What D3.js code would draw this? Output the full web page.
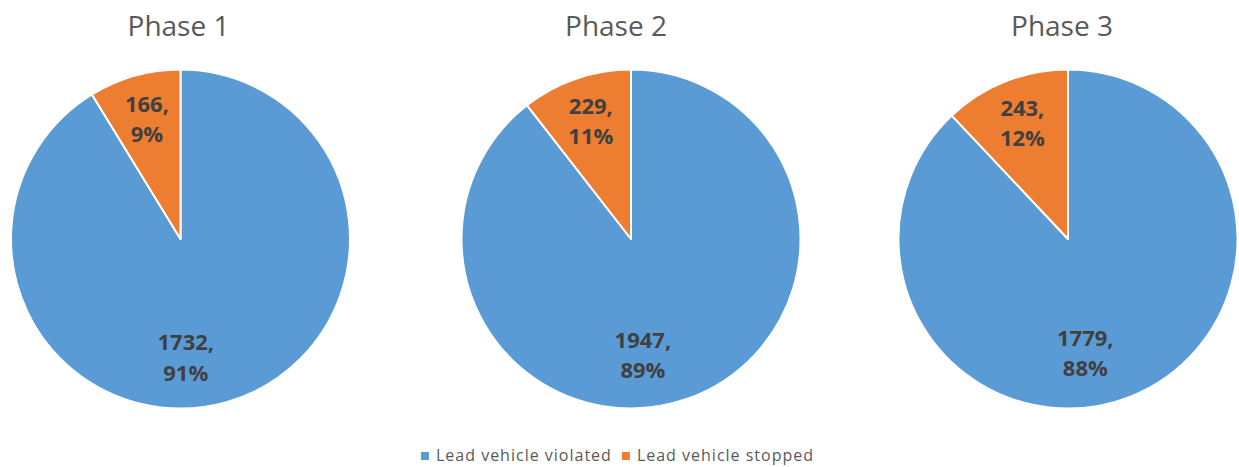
<!DOCTYPE html>
<html>
<head>
<meta charset="utf-8">
<script src="https://cdn.jsdelivr.net/npm/d3@7"></script>
<style>
  body { margin: 0; background: #ffffff; }
  svg { display: block; }
  .pieTitle { font-family: "Open Sans", sans-serif; font-size: 28px; fill: #595959; }
  .sliceLabel { font-family: "Open Sans", sans-serif; font-size: 22px; font-weight: bold; fill: #404040; }
  .legendText { font-family: "Open Sans", sans-serif; font-size: 16px; fill: #595959; letter-spacing: 1px; }
</style>
</head>
<body>
<div id="chart"></div>
<script>
const CHART_WIDTH = 1239;
const CHART_HEIGHT = 467;

// data
const phases = ["Phase 1", "Phase 2", "Phase 3"];
const categories = ["Lead vehicle violated", "Lead vehicle stopped"];
const violatedCounts = [1732, 1947, 1779];
const stoppedCounts = [166, 229, 243];
const sliceColors = ["#5B9BD5", "#ED7D31"];

// layout
const PIE_RADIUS = 169.5;
const PIE_CENTER_Y = 239;
const LABEL_RADIUS = PIE_RADIUS * 0.73;

let pieX = d3.scaleOrdinal().domain(phases).range([180.5, 631, 1068]);
let titleX = d3.scaleOrdinal().domain(phases).range([178.5, 616, 1062]);
let color = d3.scaleOrdinal().domain(categories).range(sliceColors);

let pie = d3.pie().sort(null).value(d => d.value);
let arc = d3.arc().innerRadius(0).outerRadius(PIE_RADIUS);
let labelArc = d3.arc().innerRadius(LABEL_RADIUS).outerRadius(LABEL_RADIUS);
let pct = d3.format(".0%");

let svg = d3.select("#chart").append("svg")
    .attr("width", CHART_WIDTH)
    .attr("height", CHART_HEIGHT);

phases.forEach((phase, i) => {
    let rows = [
        { category: categories[0], value: violatedCounts[i] },
        { category: categories[1], value: stoppedCounts[i] }
    ];
    let total = d3.sum(rows, d => d.value);

    svg.append("text")
        .attr("class", "pieTitle")
        .attr("x", titleX(phase))
        .attr("y", 36)
        .attr("text-anchor", "middle")
        .text(phase);

    let g = svg.append("g")
        .attr("transform", `translate(${pieX(phase)},${PIE_CENTER_Y})`);

    let slices = pie(rows);

    g.selectAll("path")
        .data(slices)
        .join("path")
        .attr("d", arc)
        .attr("fill", d => color(d.data.category))
        .attr("stroke", "#ffffff")
        .attr("stroke-width", 2)
        .attr("stroke-linejoin", "round");

    let labels = g.selectAll("text")
        .data(slices)
        .join("text")
        .attr("class", "sliceLabel")
        .attr("text-anchor", "middle");

    labels.append("tspan")
        .attr("x", 0)
        .attr("dy", "-0.36em")
        .text(d => d.data.value + ",");
    labels.append("tspan")
        .attr("x", 0)
        .attr("dy", "1.38em")
        .text(d => pct(d.data.value / total));

    // big slice: label sits left of its centroid (like Excel's best fit)
    labels.attr("transform", function (d) {
        let [x, y] = labelArc.centroid(d);
        let bigSlice = (d.endAngle - d.startAngle) > Math.PI;
        if (bigSlice) x -= this.getBBox().width / 2;
        return `translate(${x},${y})`;
    });
});

// legend
let legend = svg.append("g").attr("class", "legend");
let items = legend.selectAll("g")
    .data(categories)
    .join("g");

items.append("rect")
    .attr("width", 8)
    .attr("height", 8)
    .attr("y", -9)
    .attr("fill", d => color(d));

items.append("text")
    .attr("class", "legendText")
    .attr("x", 15)
    .text(d => d);

// lay out legend items side by side, centered
let offset = 0;
items.each(function () {
    let w = this.getBBox().width;
    d3.select(this).attr("transform", `translate(${offset},0)`);
    offset += w + 10;
});
offset -= 10;
legend.attr("transform", `translate(${(CHART_WIDTH - offset) / 2 - 2},461)`);
</script>
</body>
</html>
